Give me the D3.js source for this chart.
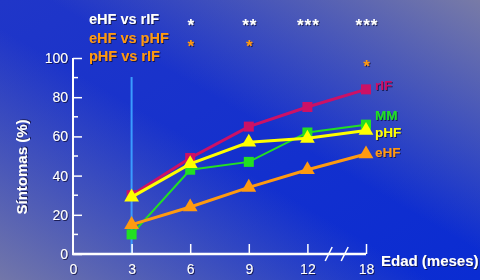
<!DOCTYPE html>
<html>
<head>
<meta charset="utf-8">
<script src="https://cdn.jsdelivr.net/npm/d3@7"></script>
<style>
  body { margin: 0; background: #1a33c8; }
  text { font-family: "Liberation Sans", Arial, sans-serif; }
</style>
</head>
<body>
<svg id="chart" width="480" height="280"></svg>
<script>
// categories on the x axis (equally spaced, axis break between 12 and 18)
var ages = ["0", "3", "6", "9", "12", "18"];
var yTicks = [0, 20, 40, 60, 80, 100];

// symptom % per group, for ages 3, 6, 9, 12, 18
var rIF = [30, 49, 65, 75, 84];
var MM  = [10, 43, 47, 62, 66];
var eHF = [15, 24, 34, 43, 51];
var pHF = [29, 46, 57, 59, 63];

// significance rows (ages 3..18)
var sigLabels = ["eHF vs rIF", "eHF vs pHF", "pHF vs rIF"];
var sig_eHF_rIF = ["", "*", "**", "***", "***"];
var sig_eHF_pHF = ["", "*", "*", "", ""];
var sig_pHF_rIF = ["", "", "", "", "*"];

var svg = d3.select("#chart");
var W = 480, H = 280;

// background
var defs = svg.append("defs");
var g1 = defs.append("linearGradient").attr("id", "bg1")
  .attr("x1", 0).attr("y1", 0).attr("x2", 1).attr("y2", 1);
g1.append("stop").attr("offset", "0%").attr("stop-color", "#2036c8");
g1.append("stop").attr("offset", "100%").attr("stop-color", "#0a2cd2");
var g2 = defs.append("linearGradient").attr("id", "bg2")
  .attr("x1", 0).attr("y1", 1).attr("x2", 1).attr("y2", 0);
g2.append("stop").attr("offset", "0%").attr("stop-color", "#8a88a0").attr("stop-opacity", 0.8);
g2.append("stop").attr("offset", "45%").attr("stop-color", "#8a88a0").attr("stop-opacity", 0);
g2.append("stop").attr("offset", "55%").attr("stop-color", "#8a88a0").attr("stop-opacity", 0);
g2.append("stop").attr("offset", "100%").attr("stop-color", "#8a88a0").attr("stop-opacity", 0.85);
svg.append("rect").attr("width", W).attr("height", H).attr("fill", "url(#bg1)");
svg.append("rect").attr("width", W).attr("height", H).attr("fill", "url(#bg2)");

var shadow = defs.append("filter").attr("id", "shadow")
  .attr("x", "-20%").attr("y", "-20%").attr("width", "140%").attr("height", "140%");
shadow.append("feDropShadow").attr("dx", 1).attr("dy", 1).attr("stdDeviation", 0.3)
  .attr("flood-color", "#101040").attr("flood-opacity", 0.8);

var x = d3.scaleLinear().domain([0, ages.length - 1]).range([73, 366]);
var y = d3.scaleLinear().domain([0, 100]).range([254, 58]);

// vertical marker at 3 months
svg.append("line")
  .attr("x1", x(1)).attr("x2", x(1))
  .attr("y1", 77).attr("y2", y(0))
  .attr("stroke", "#3a9cff").attr("stroke-width", 2);

// y axis
var yAxis = svg.append("g")
  .attr("transform", "translate(" + x(0) + ",0)")
  .call(d3.axisLeft(y).tickValues(yTicks).tickSize(-9).tickPadding(5));
yAxis.select(".domain").attr("stroke", "white").attr("stroke-width", 2)
  .attr("d", "M0," + y(0) + "V" + y(100));
yAxis.selectAll(".tick line").attr("stroke", "white").attr("stroke-width", 1.5);
yAxis.selectAll(".tick text").attr("fill", "white").attr("font-size", 14)
  .attr("font-family", "Liberation Sans, Arial").attr("filter", "url(#shadow)");
svg.append("g").selectAll("line")
  .data([10, 30, 50, 70, 90]).enter().append("line")
  .attr("x1", x(0)).attr("x2", x(0) + 5)
  .attr("y1", function(d){ return y(d); }).attr("y2", function(d){ return y(d); })
  .attr("stroke", "white").attr("stroke-width", 1.5);

// x axis
var xAxis = svg.append("g")
  .attr("transform", "translate(0," + y(0) + ")")
  .call(d3.axisBottom(x).tickValues(d3.range(ages.length))
    .tickFormat(function(i){ return ages[i]; }).tickSize(-10).tickPadding(10));
xAxis.select(".domain").attr("stroke", "white").attr("stroke-width", 2.5)
  .attr("d", "M" + (x(0) - 1) + ",0H" + x(ages.length - 1));
xAxis.selectAll(".tick line").attr("stroke", "white").attr("stroke-width", 1.5)
  .filter(function(d){ return d === 0; }).remove();
xAxis.selectAll(".tick text").attr("fill", "white").attr("font-size", 14)
  .attr("font-family", "Liberation Sans, Arial").attr("filter", "url(#shadow)");
// axis break
var brk = (x(4) + x(5)) / 2;
[-8, 8].forEach(function(o){
  svg.append("line")
    .attr("x1", brk + o - 3.5).attr("y1", y(0) + 7)
    .attr("x2", brk + o + 3.5).attr("y2", y(0) - 7)
    .attr("stroke", "white").attr("stroke-width", 1.5);
});

// axis titles
svg.append("text")
  .attr("transform", "translate(27," + 167 + ") rotate(-90)")
  .attr("text-anchor", "middle").attr("fill", "white")
  .attr("font-size", 15).attr("font-weight", "bold").attr("filter", "url(#shadow)")
  .text("Síntomas (%)");
svg.append("text")
  .attr("x", 381).attr("y", 266).attr("fill", "white")
  .attr("font-size", 15).attr("font-weight", "bold").attr("filter", "url(#shadow)")
  .text("Edad (meses)");

// series
var series = [
  {name: "rIF", values: rIF, color: "#cc1166", width: 3, symbol: d3.symbolSquare, size: 100, ly: 90},
  {name: "MM",  values: MM,  color: "#22e022", width: 2, symbol: d3.symbolSquare, size: 100, ly: 120},
  {name: "eHF", values: eHF, color: "#ff9a10", width: 3, symbol: d3.symbolTriangle, size: 95, ly: 157},
  {name: "pHF", values: pHF, color: "#ffff00", width: 3, symbol: d3.symbolTriangle, size: 95, ly: 137}
];
var line = d3.line()
  .x(function(d, i){ return x(i + 1); })
  .y(function(d){ return y(d); });

series.forEach(function(s){
  var g = svg.append("g");
  g.append("path").datum(s.values)
    .attr("d", line).attr("fill", "none")
    .attr("stroke", s.color).attr("stroke-width", s.width);
  g.selectAll("path.pt").data(s.values).enter().append("path")
    .attr("class", "pt")
    .attr("transform", function(d, i){ return "translate(" + x(i + 1) + "," + y(d) + ")"; })
    .attr("d", d3.symbol().type(s.symbol).size(s.size))
    .attr("fill", s.color);
  svg.append("text")
    .attr("x", 375).attr("y", s.ly)
    .attr("fill", s.color).attr("font-size", 13.5).attr("font-weight", "bold")
    .attr("filter", "url(#shadow)")
    .text(s.name);
});

// significance legend
var sigColors = ["white", "#ff9a10", "#ff9a10"];
var sigRows = [sig_eHF_rIF, sig_eHF_pHF, sig_pHF_rIF];
sigLabels.forEach(function(t, r){
  svg.append("text")
    .attr("x", 89).attr("y", 24 + r * 18.5)
    .attr("fill", sigColors[r]).attr("font-size", 14.5).attr("font-weight", "bold")
    .attr("filter", "url(#shadow)")
    .text(t);
  svg.append("g").selectAll("text")
    .data(sigRows[r]).enter().append("text")
    .attr("x", function(d, i){ return x(i + 1) + 1; })
    .attr("y", 31 + r * 20.5)
    .attr("text-anchor", "middle")
    .attr("fill", sigColors[r]).attr("font-size", 17).attr("font-weight", "bold")
    .attr("letter-spacing", 1)
    .attr("filter", "url(#shadow)")
    .text(function(d){ return d; });
});
</script>
</body>
</html>
